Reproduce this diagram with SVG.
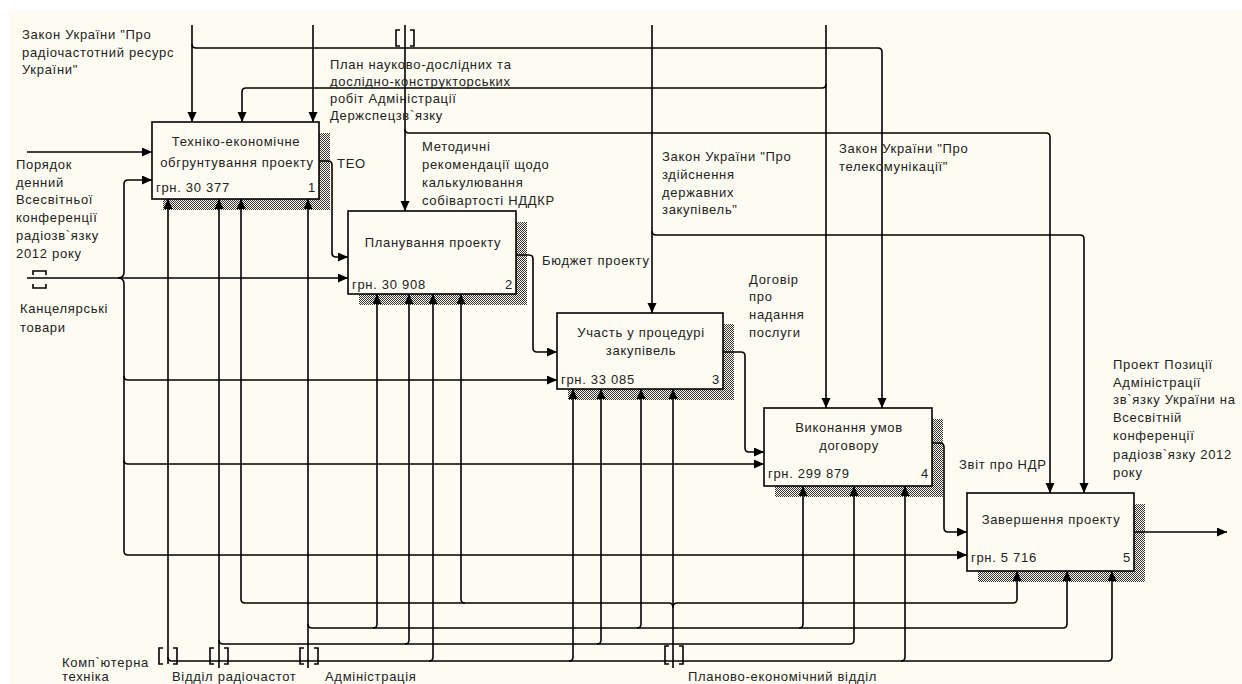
<svg xmlns="http://www.w3.org/2000/svg" width="1242" height="684" viewBox="0 0 1242 684">
<defs>
<pattern id="hatch" width="2" height="2" patternUnits="userSpaceOnUse">
<rect width="2" height="2" fill="#fefcf2"/>
<rect x="0" y="0" width="1" height="1" fill="#333"/>
<rect x="1" y="1" width="1" height="1" fill="#333"/>
</pattern>
<marker id="arr" markerUnits="userSpaceOnUse" markerWidth="11" markerHeight="10" refX="10" refY="4.5" orient="auto">
<path d="M0,0 L10,4.5 L0,9 z" fill="#000"/>
</marker>
<style>
text{font-family:"Liberation Sans",Arial,sans-serif;font-size:13px;fill:#222;letter-spacing:0.7px}
.box{fill:#fefcf2;stroke:#000;stroke-width:1.6}
.sh{fill:url(#hatch)}
.mid{text-anchor:middle}
.end{text-anchor:end}
#connectors path{fill:none;stroke:#000;stroke-width:1.6}
.a{marker-end:url(#arr)}
.tun{fill:none;stroke:#000;stroke-width:1.6}
</style>
</defs>
<rect x="0" y="0" width="1242" height="684" fill="#ffffff"/>
<rect x="9" y="11" width="1233" height="673" fill="#fefcf2"/>

<g id="node1">
<rect class="sh" x="163" y="133" width="167" height="77"/>
<rect class="box" x="152" y="122" width="167" height="77"/>
<text class="mid" x="236" y="146">Техніко-економічне</text>
<text class="mid" x="237" y="167">обгрунтування проекту</text>
<text x="156" y="192">грн. 30 377</text>
<text class="end" x="316" y="192">1</text>
</g>
<g id="node2">
<rect class="sh" x="359" y="222" width="168" height="83"/>
<rect class="box" x="348" y="211" width="168" height="83"/>
<text class="mid" x="433" y="247">Планування проекту</text>
<text x="352" y="289">грн. 30 908</text>
<text class="end" x="513" y="289">2</text>
</g>
<g id="node3">
<rect class="sh" x="568" y="324" width="166" height="76"/>
<rect class="box" x="557" y="313" width="166" height="76"/>
<text class="mid" x="641" y="337">Участь у процедурі</text>
<text class="mid" x="641" y="355">закупівель</text>
<text x="561" y="384">грн. 33 085</text>
<text class="end" x="720" y="384">3</text>
</g>
<g id="node4">
<rect class="sh" x="775" y="419" width="168" height="78"/>
<rect class="box" x="764" y="408" width="168" height="78"/>
<text class="mid" x="849" y="432">Виконання умов</text>
<text class="mid" x="849" y="450">договору</text>
<text x="768" y="478">грн. 299 879</text>
<text class="end" x="929" y="478">4</text>
</g>
<g id="node5">
<rect class="sh" x="978" y="504" width="167" height="78"/>
<rect class="box" x="967" y="493" width="167" height="78"/>
<text class="mid" x="1051" y="524">Завершення проекту</text>
<text x="971" y="562">грн. 5 716</text>
<text class="end" x="1131" y="562">5</text>
</g>

<g id="connectors">
<path class="a" d="M192,25 V122"/>
<path class="a" d="M192,44 Q192,48 196,48 H878 Q882,48 882,52 V408"/>
<path class="a" d="M313,25 V122"/>
<path class="a" d="M405,25 V211"/>
<path class="a" d="M405,129 Q405,133 409,133 H1046 Q1050,133 1050,137 V493"/>
<path class="a" d="M652,25 V313"/>
<path class="a" d="M652,231 Q652,235 656,235 H1080 Q1084,235 1084,239 V493"/>
<path class="a" d="M826,25 V408"/>
<path class="a" d="M826,84 Q826,88 822,88 H246 Q242,88 242,92 V122"/>
<path class="a" d="M27,152 H152"/>
<path class="a" d="M27,278 H348"/>
<path class="a" d="M118,278 Q124,278 124,272 V184 Q124,180 128,180 H152"/>
<path class="a" d="M118,278 Q124,278 124,284 V376 Q124,380 128,380 H557"/>
<path class="a" d="M124,376 V460 Q124,464 128,464 H764"/>
<path class="a" d="M124,460 V551 Q124,555 128,555 H967"/>
<path class="a" d="M319,161 H328 Q332,161 332,165 V253 Q332,257 336,257 H348"/>
<path class="a" d="M516,255 H529 Q533,255 533,259 V348 Q533,352 537,352 H557"/>
<path class="a" d="M723,352 H741 Q745,352 745,356 V448 Q745,452 749,452 H764"/>
<path class="a" d="M932,443 H940 Q944,443 944,447 V528 Q944,532 948,532 H967"/>
<path class="a" d="M1134,532 H1227"/>
<path class="a" d="M168,664 V199"/>
<path class="a" d="M168,657 Q168,661 172,661 H1108 Q1112,661 1112,657 V571"/>
<path class="a" d="M429,661 Q433,661 433,657 V294"/>
<path class="a" d="M569,661 Q573,661 573,657 V389"/>
<path class="a" d="M901,661 Q905,661 905,657 V486"/>
<path class="a" d="M219,668 V199"/>
<path class="a" d="M219,640 Q219,644 223,644 H850 Q854,644 854,640 V486"/>
<path class="a" d="M405,644 Q409,644 409,640 V294"/>
<path class="a" d="M597,644 Q601,644 601,640 V389"/>
<path class="a" d="M308,668 V199"/>
<path class="a" d="M308,624 Q308,628 312,628 H1063 Q1067,628 1067,624 V571"/>
<path class="a" d="M373,628 Q377,628 377,624 V294"/>
<path class="a" d="M637,628 Q641,628 641,624 V389"/>
<path class="a" d="M799,628 Q803,628 803,624 V486"/>
<path class="a" d="M673,668 V389"/>
<path d="M669,603 Q673,603 673,608 Q673,603 677,603"/>
<path class="a" d="M669,603 H245 Q241,603 241,599 V199"/>
<path class="a" d="M465,603 Q461,603 461,599 V294"/>
<path class="a" d="M677,603 H1013 Q1017,603 1017,599 V571"/>
<path class="tun" d="M400,30 H396 V46 H400 M410,30 H414 V46 H410"/>
<path class="tun" d="M33,275 V271 H46 V275 M33,284 V288 H46 V284"/>
<path class="tun" d="M163,648 H159 V664 H163 M173,648 H177 V664 H173"/>
<path class="tun" d="M214,648 H210 V664 H214 M224,648 H228 V664 H224"/>
<path class="tun" d="M304,648 H300 V664 H304 M314,648 H318 V664 H314"/>
<path class="tun" d="M669,646 H665 V664 H669 M679,646 H683 V664 H679"/>
</g>

<g id="labels">
<text x="22" y="39">Закон України "Про</text>
<text x="22" y="57">радіочастотний ресурс</text>
<text x="22" y="74">України"</text>
<text x="330" y="69">План науково-дослідних та</text>
<text x="330" y="86">дослідно-конструкторських</text>
<text x="330" y="103">робіт Адміністрації</text>
<text x="330" y="120">Держспецзв`язку</text>
<text x="422" y="151">Методичні</text>
<text x="422" y="169">рекомендації щодо</text>
<text x="422" y="187">калькулювання</text>
<text x="422" y="205">собівартості НДДКР</text>
<text x="662" y="161">Закон України "Про</text>
<text x="662" y="179">здійснення</text>
<text x="662" y="197">державних</text>
<text x="662" y="214">закупівель"</text>
<text x="839" y="153">Закон України "Про</text>
<text x="839" y="171">телекомунікації"</text>
<text x="337" y="168">ТЕО</text>
<text x="16" y="169">Порядок</text>
<text x="16" y="187">денний</text>
<text x="16" y="204">Всесвітньої</text>
<text x="16" y="222">конференції</text>
<text x="16" y="240">радіозв`язку</text>
<text x="16" y="258">2012 року</text>
<text x="20" y="313">Канцелярські</text>
<text x="20" y="332">товари</text>
<text x="542" y="265">Бюджет проекту</text>
<text x="749" y="284">Договір</text>
<text x="749" y="301">про</text>
<text x="749" y="319">надання</text>
<text x="749" y="337">послуги</text>
<text x="959" y="469">Звіт про НДР</text>
<text x="1113" y="369">Проект Позиції</text>
<text x="1113" y="387">Адміністрації</text>
<text x="1113" y="404">зв`язку України на</text>
<text x="1113" y="422">Всесвітній</text>
<text x="1113" y="440">конференції</text>
<text x="1113" y="459">радіозв`язку 2012</text>
<text x="1113" y="477">року</text>
<text x="62" y="667">Комп`ютерна</text>
<text x="62" y="681">техніка</text>
<text x="172" y="681">Відділ радіочастот</text>
<text x="325" y="681">Адміністрація</text>
<text x="688" y="681">Планово-економічний відділ</text>
</g>
</svg>
